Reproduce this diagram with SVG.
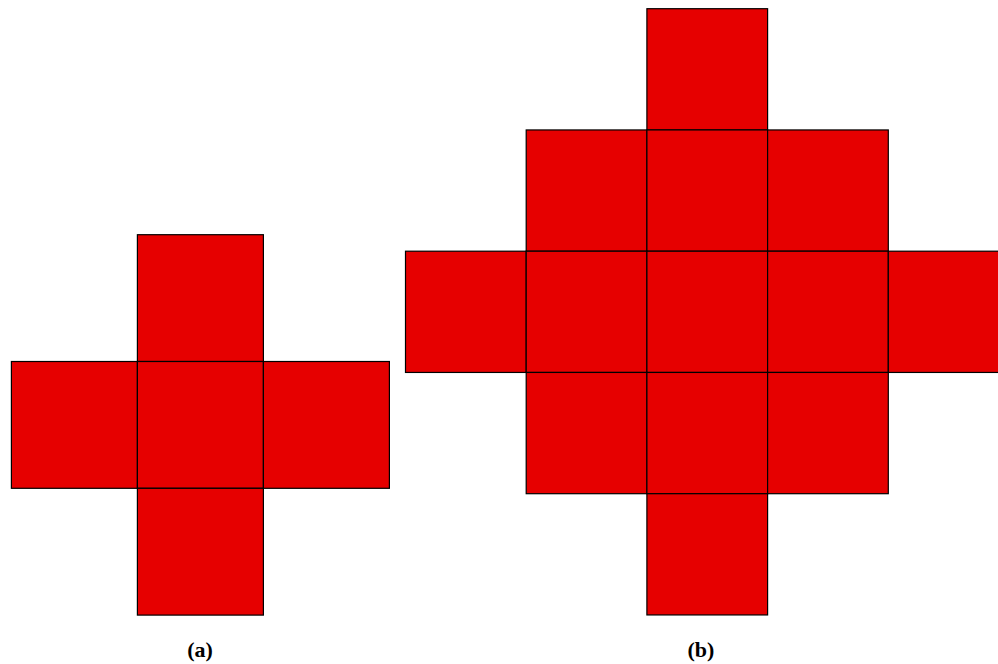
<svg xmlns="http://www.w3.org/2000/svg" width="998" height="664" viewBox="0 0 998 664">
<style>
.c{fill:#e60000;stroke:#000;stroke-width:1.2}
.l{font-family:"Liberation Serif",serif;font-weight:bold;font-size:22px;text-anchor:middle}
</style>
<rect width="998" height="664" fill="#fff"/>
<g id="figure-a">
<rect class="c" x="137.4" y="234.7" width="126" height="126.8"/>
<rect class="c" x="11.4" y="361.5" width="126" height="126.8"/>
<rect class="c" x="137.4" y="361.5" width="126" height="126.8"/>
<rect class="c" x="263.4" y="361.5" width="126" height="126.8"/>
<rect class="c" x="137.4" y="488.3" width="126" height="126.8"/>
</g>
<g id="figure-b">
<rect class="c" x="646.9" y="8.7" width="120.7" height="121.25"/>
<rect class="c" x="526.2" y="129.95" width="120.7" height="121.25"/>
<rect class="c" x="646.9" y="129.95" width="120.7" height="121.25"/>
<rect class="c" x="767.6" y="129.95" width="120.7" height="121.25"/>
<rect class="c" x="405.5" y="251.2" width="120.7" height="121.25"/>
<rect class="c" x="526.2" y="251.2" width="120.7" height="121.25"/>
<rect class="c" x="646.9" y="251.2" width="120.7" height="121.25"/>
<rect class="c" x="767.6" y="251.2" width="120.7" height="121.25"/>
<rect class="c" x="888.3" y="251.2" width="120.7" height="121.25"/>
<rect class="c" x="526.2" y="372.45" width="120.7" height="121.25"/>
<rect class="c" x="646.9" y="372.45" width="120.7" height="121.25"/>
<rect class="c" x="767.6" y="372.45" width="120.7" height="121.25"/>
<rect class="c" x="646.9" y="493.7" width="120.7" height="121.25"/>
</g>
<g id="labels">
<text class="l" x="200" y="657">(a)</text>
<text class="l" x="701" y="657">(b)</text>
</g>
</svg>
